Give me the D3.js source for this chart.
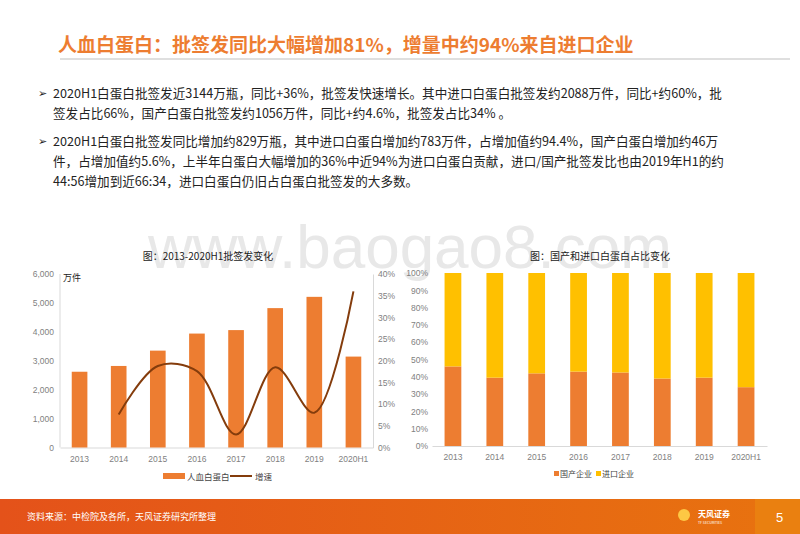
<!DOCTYPE html>
<html><head><meta charset="utf-8">
<script src="https://cdn.jsdelivr.net/npm/d3@7"></script>
<style>body{margin:0;background:#fff}svg{display:block}</style>
</head><body><svg id="c" width="800" height="534"></svg>
<script>
const years = ["2013","2014","2015","2016","2017","2018","2019","2020H1"];
const volume = [2620,2820,3350,3940,4060,4820,5210,3144];
const growth = [null,7.6,18.8,17.6,3.0,18.5,8.0,36.0];
const domestic = [46,39.5,42,43,42.5,39,39.5,34];
const imported = domestic.map(d=>100-d);
const leftTicks = [0,1000,2000,3000,4000,5000,6000];
const rightTicks = [0,5,10,15,20,25,30,35,40];
const pctTicks = [0,10,20,30,40,50,60,70,80,90,100];

const F = "'Noto Sans CJK SC', 'Liberation Sans', sans-serif";
const svg = d3.select("#c").style("font-family",F);
const ORANGE="#ED7D31", YEL="#FFC000", BROWN="#843C0C", GREY="#7f7f7f";

// watermark
svg.append("text").attr("x",410).attr("y",268).attr("text-anchor","middle").attr("font-size",62)
 .attr("fill","#e8e8e8").attr("font-family","'Liberation Sans',sans-serif").text("www.baogao8.com");

// header
svg.append("text").attr("x",58).attr("y",52).attr("font-size",19).attr("font-weight","bold").attr("fill",ORANGE)
 .text("人血白蛋白：批签发同比大幅增加81%，增量中约94%来自进口企业");
svg.append("line").attr("x1",60).attr("x2",790).attr("y1",59).attr("y2",59).attr("stroke","#bfbfbf");
const body=[
 [38,93,true,"2020H1白蛋白批签发近3144万瓶，同比+36%，批签发快速增长。其中进口白蛋白批签发约2088万件，同比+约60%，批"],
 [53,113,false,"签发占比66%，国产白蛋白批签发约1056万件，同比+约4.6%，批签发占比34% 。"],
 [38,141,true,"2020H1白蛋白批签发同比增加约829万瓶，其中进口白蛋白增加约783万件，占增加值约94.4%，国产白蛋白增加约46万"],
 [53,161,false,"件，占增加值约5.6%，上半年白蛋白大幅增加的36%中近94%为进口白蛋白贡献，进口/国产批签发比也由2019年H1的约"],
 [53,181,false,"44:56增加到近66:34，进口白蛋白仍旧占白蛋白批签发的大多数。"]];
body.forEach(([x,y,b,t])=>{
 if(b){svg.append("text").attr("x",38).attr("y",y+4).attr("font-size",11).attr("fill","#222").text("➢");}
 svg.append("text").attr("x",53).attr("y",y+5).attr("font-size",12.6).attr("fill","#222").text(t);
});

// left chart
const lx=d3.scaleBand().domain(years).range([60,373]).paddingInner(0.6).paddingOuter(0.3);
const ly=d3.scaleLinear().domain([0,6000]).range([447.5,274]);
const ry=d3.scaleLinear().domain([0,40]).range([447.5,274]);
svg.append("text").attr("x",208).attr("y",260).attr("text-anchor","middle").attr("font-size",10).attr("fill","#222").text("图：2013-2020H1批签发变化");
const gl=svg.append("g").attr("transform","translate(60,0)").call(d3.axisLeft(ly).tickValues(leftTicks).tickFormat(d3.format(",")).tickSize(0).tickPadding(6));
const gr=svg.append("g").attr("transform","translate(373,0)").call(d3.axisRight(ry).tickValues(rightTicks).tickFormat(d=>d+"%").tickSize(0).tickPadding(5));
const gx=svg.append("g").attr("transform","translate(0,447.5)").call(d3.axisBottom(lx).tickSize(0).tickPadding(8));
[gl,gr,gx].forEach(g=>{g.selectAll("text").attr("fill",GREY).attr("font-size",8.5).attr("font-family","'Liberation Sans',sans-serif");g.select(".domain").attr("stroke","#d9d9d9");});
gl.select(".domain").remove();
svg.append("line").attr("x1",60).attr("x2",60).attr("y1",274).attr("y2",447.5).attr("stroke","#d9d9d9");
svg.append("text").attr("x",63).attr("y",281).attr("font-size",9).attr("fill","#222").text("万件");
svg.selectAll(".vb").data(years).enter().append("rect").attr("x",d=>lx(d)).attr("width",lx.bandwidth())
 .attr("y",(d,i)=>ly(volume[i])).attr("height",(d,i)=>ly(0)-ly(volume[i])).attr("fill",ORANGE);
const pts=years.map((d,i)=>[lx(d)+lx.bandwidth()/2,growth[i]]).filter(p=>p[1]!=null);
svg.append("path").attr("d",d3.line().x(p=>p[0]).y(p=>ry(p[1])).curve(d3.curveCatmullRom.alpha(0.5))(pts))
 .attr("fill","none").attr("stroke",BROWN).attr("stroke-width",2);
svg.append("rect").attr("x",163).attr("y",473).attr("width",22).attr("height",6).attr("fill",ORANGE);
svg.append("text").attr("x",187).attr("y",480).attr("font-size",8.5).attr("fill","#444").text("人血白蛋白");
svg.append("line").attr("x1",230).attr("x2",252).attr("y1",476).attr("y2",476).attr("stroke",BROWN).attr("stroke-width",2);
svg.append("text").attr("x",255).attr("y",480).attr("font-size",8.5).attr("fill","#444").text("增速");

// right chart
const bx=d3.scaleBand().domain(years).range([432,767]).paddingInner(0.6).paddingOuter(0.3);
const by=d3.scaleLinear().domain([0,100]).range([446,273]);
svg.append("text").attr("x",600).attr("y",260).attr("text-anchor","middle").attr("font-size",10).attr("fill","#222").text("图：国产和进口白蛋白占比变化");
const bl=svg.append("g").attr("transform","translate(432,0)").call(d3.axisLeft(by).tickValues(pctTicks).tickFormat(d=>d+"%").tickSize(0).tickPadding(4));
const bxa=svg.append("g").attr("transform","translate(0,446)").call(d3.axisBottom(bx).tickSize(0).tickPadding(8));
[bl,bxa].forEach(g=>{g.selectAll("text").attr("fill",GREY).attr("font-size",8.5).attr("font-family","'Liberation Sans',sans-serif");g.select(".domain").attr("stroke","#d9d9d9");});
bl.select(".domain").remove();
svg.selectAll(".dm").data(years).enter().append("rect").attr("x",d=>bx(d)).attr("width",bx.bandwidth())
 .attr("y",(d,i)=>by(domestic[i])).attr("height",(d,i)=>by(0)-by(domestic[i])).attr("fill",ORANGE);
svg.selectAll(".im").data(years).enter().append("rect").attr("x",d=>bx(d)).attr("width",bx.bandwidth())
 .attr("y",(d,i)=>by(domestic[i]+imported[i])).attr("height",(d,i)=>by(domestic[i])-by(domestic[i]+imported[i])).attr("fill",YEL);
svg.append("rect").attr("x",554).attr("y",471).attr("width",5).attr("height",5).attr("fill",ORANGE);
svg.append("text").attr("x",560).attr("y",477).attr("font-size",8).attr("fill","#444").text("国产企业");
svg.append("rect").attr("x",596).attr("y",471).attr("width",5).attr("height",5).attr("fill",YEL);
svg.append("text").attr("x",602).attr("y",477).attr("font-size",8).attr("fill","#444").text("进口企业");

// footer
const gd=svg.append("defs").append("linearGradient").attr("id","fg");
gd.append("stop").attr("offset","0").attr("stop-color","#E4521A");
gd.append("stop").attr("offset","1").attr("stop-color","#E8730F");
svg.append("rect").attr("x",0).attr("y",499).attr("width",800).attr("height",35).attr("fill","url(#fg)");
svg.append("rect").attr("x",755).attr("y",499).attr("width",45).attr("height",35).attr("fill","#EA8010");
svg.append("text").attr("x",27).attr("y",520).attr("font-size",9).attr("fill","#fff").text("资料来源：中检院及各所，天风证券研究所整理");
svg.append("text").attr("x",698).attr("y",517).attr("font-size",8).attr("fill","#fff").attr("font-weight","bold").text("天风证券");
svg.append("text").attr("x",698).attr("y",524).attr("font-size",3.5).attr("fill","#fff").text("TF SECURITIES");
svg.append("circle").attr("cx",684).attr("cy",515).attr("r",6).attr("fill","#FFD24A").attr("opacity",0.9);
svg.append("text").attr("x",776).attr("y",522).attr("font-size",13).attr("fill","#fff").attr("font-family","'Liberation Sans',sans-serif").text("5");
</script></body></html>
